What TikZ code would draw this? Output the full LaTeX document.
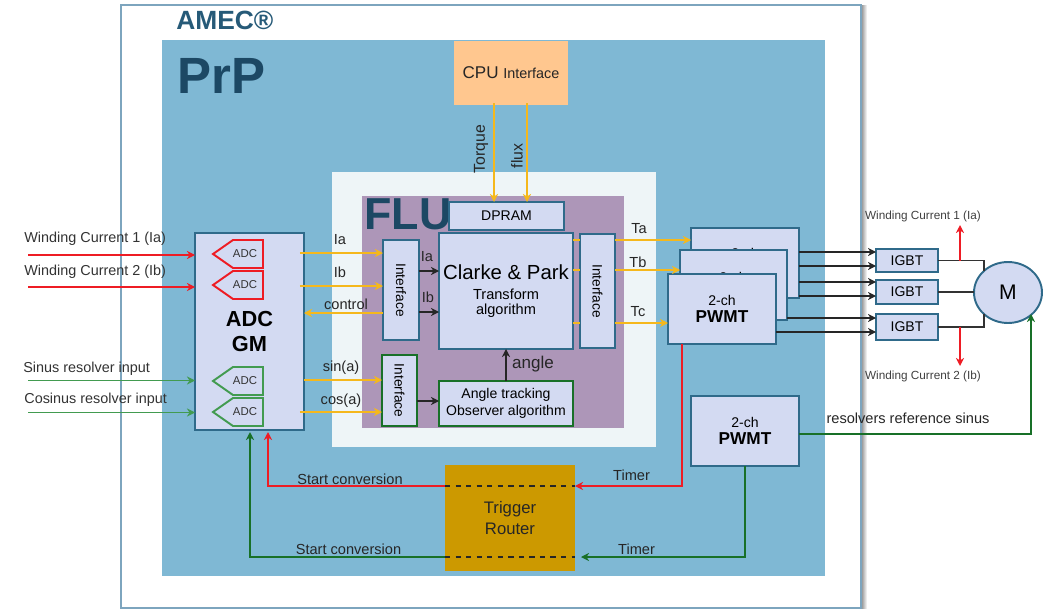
\documentclass[tikz,border=0pt]{standalone}
\usepackage{fontspec}
\setmainfont{Liberation Sans}
\usepackage{xcolor}
\usetikzlibrary{positioning, calc, shapes.geometric, arrows.meta}
\definecolor{framegray}{RGB}{125,165,190}
\definecolor{prpblue}{RGB}{127,184,212}
\definecolor{titleblue}{RGB}{38,90,120}
\definecolor{flublue}{RGB}{28,72,100}
\definecolor{cpuorange}{RGB}{255,199,143}
\definecolor{fluback}{RGB}{238,245,247}
\definecolor{flupurple}{RGB}{173,150,184}
\definecolor{boxfill}{RGB}{211,218,242}
\definecolor{boxedge}{RGB}{47,106,138}
\definecolor{trigfill}{RGB}{204,153,0}
\definecolor{sigred}{RGB}{238,28,36}
\definecolor{siggreen}{RGB}{66,155,80}
\definecolor{darkgreen}{RGB}{24,112,40}
\definecolor{sigyellow}{RGB}{245,184,28}
\newcommand{\sz}[2]{\fontsize{#1}{#2}\selectfont}
\begin{document}
\begin{tikzpicture}[
    x=0.02cm, y=-0.02cm,
    >={Stealth[length=4.6pt,width=4.6pt]},
    box/.style={rectangle, draw=boxedge, fill=boxfill, line width=0.9pt, inner sep=0pt, outer sep=0pt, align=center},
    greenbox/.style={box, draw=darkgreen},
    pwmt/.style={box, minimum width=2.16cm, minimum height=1.4cm, font=\sz{8}{10}},
    igbt/.style={box, minimum width=1.24cm, font=\sz{8}{10}},
    adcshape/.style={fill=boxfill, line width=1.1pt},
    adctxt/.style={inner sep=0pt, text=black!80, font=\sz{6.5}{8}},
    lab/.style={inner sep=0pt, text=black!85, font=\sz{8.3}{10}},
    inlab/.style={inner sep=0pt, text=black!80, font=\sz{8.2}{10}},
    motorlab/.style={inner sep=0pt, text=black!75, font=\sz{6.7}{8}},
    yarrow/.style={->, line width=1.1pt, sigyellow},
    bkarrow/.style={->, line width=1.1pt, black!85},
    redarrow/.style={->, line width=1.1pt, sigred},
    grnarrow/.style={->, line width=1.1pt, siggreen},
    dgarrow/.style={->, line width=1.1pt, darkgreen},
]
\useasboundingbox (0,0) rectangle (1046,609);
% nested areas
\fill[left color=black!45, right color=white] (861,5) rectangle (867,608);
\node[draw=framegray, fill=white, line width=0.8pt, minimum width=14.8cm, minimum height=12.06cm, outer sep=0pt, inner sep=0pt] (amec) at (491,306.5) {};
\node[fill=prpblue, minimum width=13.26cm, minimum height=10.72cm, outer sep=0pt, inner sep=0pt] (prp) at (493.5,308) {};
\node[fill=fluback, minimum width=6.48cm, minimum height=5.5cm, outer sep=0pt, inner sep=0pt] (fluarea) at (494,309.5) {};
\node[fill=flupurple, minimum width=5.24cm, minimum height=4.64cm, outer sep=0pt, inner sep=0pt] (flu) at (493,312) {};
\node[inner sep=0pt, text=titleblue, font=\sz{15}{17}\bfseries, anchor=west] (amectitle) at (176,20) {AMEC®};
\node[inner sep=0pt, text=flublue, font=\sz{29}{31}\bfseries, anchor=west] (prptitle) at (177,76) {PrP};
\node[inner sep=0pt, text=flublue, font=\sz{25.5}{27}\bfseries, anchor=west] (flutitle) at (364,214) {FLU};

% blocks
\node[fill=cpuorange, minimum width=2.28cm, minimum height=1.28cm, outer sep=0pt, inner sep=0pt, text=black!85] (cpu) at (511,73) {\sz{9.7}{12}CPU \sz{8.2}{12}Interface};
\node[box, minimum width=2.3cm, minimum height=0.56cm, font=\sz{8}{10}] (dpram) at (506.5,216) {DPRAM};
\node[box, minimum width=2.68cm, minimum height=2.32cm, font=\sz{8.3}{8.6}] (clarke) at (506,291) {\sz{11.6}{8.6}Clarke \& Park\\[2.8pt]Transform\\algorithm};
\node[box, minimum width=0.72cm, minimum height=2cm, font=\sz{7.8}{10}] (ifleft) at (401,290) {\rotatebox{-90}{Interface}};
\node[box, minimum width=0.7cm, minimum height=2.28cm, font=\sz{7.8}{10}] (ifright) at (597.5,291) {\rotatebox{-90}{Interface}};
\node[greenbox, minimum width=0.7cm, minimum height=1.42cm, font=\sz{7.8}{10}] (ifgreen) at (399.5,390.5) {\rotatebox{-90}{Interface}};
\node[greenbox, minimum width=2.68cm, minimum height=0.9cm, font=\sz{8}{9.7}] (angle) at (506,403.5) {Angle  tracking\\Observer algorithm};

\node[box, minimum width=2.18cm, minimum height=3.94cm, font=\sz{12.4}{14}\bfseries] (adc) at (249.5,331.5) {ADC\\GM};
\foreach \n/\yy/\cc in {adca/254/sigred, adcb/285/sigred, adcc/381/siggreen, adcd/412/siggreen} {
  \draw[adcshape, draw=\cc] (213,\yy) -- (233,\yy-14) -- (263,\yy-14) -- (263,\yy+14) -- (233,\yy+14) -- cycle;
  \node[adctxt] (\n) at (245,\yy) {ADC};
}

\node[pwmt] (pwmback) at (745,263) {};
\node[inner sep=0pt, font=\sz{8}{10}] (txtback) at (745,253.5) {2-ch};
\node[pwmt, minimum width=2.14cm] (pwmmid) at (733.5,285) {};
\node[inner sep=0pt, font=\sz{8}{10}] (txtmid) at (733,277) {2-ch};
\node[pwmt] (pwmfront) at (722,309) {2-ch\\\sz{9.8}{10}\bfseries PWMT};
\node[pwmt] (pwmres) at (745,431) {2-ch\\\sz{9.8}{10}\bfseries PWMT};

\node[igbt, minimum height=0.46cm] (igbta) at (907,260.5) {IGBT};
\node[igbt, minimum height=0.48cm] (igbtb) at (907,292) {IGBT};
\node[igbt, minimum height=0.52cm] (igbtc) at (907,327) {IGBT};
\node[ellipse, draw=boxedge, fill=boxfill, line width=1.1pt, minimum width=1.36cm, minimum height=1.22cm, inner sep=0pt, outer sep=0pt, font=\sz{12}{14}] (motor) at (1008,292.5) {M};
\node[fill=trigfill, minimum width=2.6cm, minimum height=2.12cm, outer sep=0pt, inner sep=0pt, align=center, text=black!85, font=\sz{9.5}{11.5}] (trigger) at (510,518) {Trigger\\Router};

% level coordinates for the connectors
\coordinate (lvia) at (0,253);
\coordinate (lvib) at (0,286);
\coordinate (lvctl) at (0,313);
\coordinate (lvsin) at (0,380);
\coordinate (lvcos) at (0,412);
\coordinate (lvta) at (0,240);
\coordinate (lvtb) at (0,270);
\coordinate (lvtc) at (0,323);
\coordinate (lvred) at (0,486);
\coordinate (lvgrn) at (0,557);
\coordinate (lvres) at (0,434);

% inputs
\coordinate (inia) at (28,255);
\coordinate (inib) at (28,287);
\coordinate (insin) at (28,380.5);
\coordinate (incos) at (28,412.5);
\draw[redarrow] (inia) -- (inia -| adc.west);
\draw[redarrow] (inib) -- (inib -| adc.west);
\draw[grnarrow] (insin) -- (insin -| adc.west);
\draw[grnarrow] (incos) -- (incos -| adc.west);
\node[inlab, anchor=west] (txtia) at (24,239) {Winding Current 1 (Ia)};
\node[inlab, anchor=west] (txtib) at (24,272) {Winding Current 2 (Ib)};
\node[inlab, anchor=west] (txtsin) at (23,368.5) {Sinus resolver input};
\node[inlab, anchor=west] (txtcos) at (24,399.5) {Cosinus resolver input};

% yellow signals
\draw[yarrow] ([xshift=-0.08cm]adc.east |- lvia) -- (ifleft.west |- lvia);
\draw[yarrow] ([xshift=-0.08cm]adc.east |- lvib) -- (ifleft.west |- lvib);
\draw[yarrow] (ifleft.west |- lvctl) -- (adc.east |- lvctl);
\draw[yarrow] (adc.east |- lvsin) -- (ifgreen.west |- lvsin);
\draw[yarrow] ([xshift=-0.08cm]adc.east |- lvcos) -- (ifgreen.west |- lvcos);
\node[lab] (txtoia) at (340,240) {Ia};
\node[lab] (txtoib) at (340,272) {Ib};
\node[lab] (txtctl) at (346,304) {control};
\node[lab] (txtsina) at (341,368) {sin(a)};
\node[lab] (txtcosa) at (341,401) {cos(a)};

\coordinate (cputq) at (494,103);
\coordinate (cpufl) at (527,103);
\draw[yarrow] (cputq) -- (cputq |- dpram.north);
\draw[yarrow] (cpufl) -- (cpufl |- dpram.north);
\node[lab, rotate=90, font=\sz{9}{10}] (txttq) at (481,149) {Torque};
\node[lab, rotate=90, font=\sz{9}{10}] (txtfl) at (517,156) {flux};

\draw[sigyellow, line width=1.1pt] (clarke.east |- lvta) -- (ifright.west |- lvta);
\draw[sigyellow, line width=1.1pt] (clarke.east |- lvtb) -- (ifright.west |- lvtb);
\draw[sigyellow, line width=1.1pt] (clarke.east |- lvtc) -- (ifright.west |- lvtc);
\draw[yarrow] (ifright.east |- lvta) -- (pwmback.west |- lvta);
\draw[yarrow] (ifright.east |- lvtb) -- (pwmmid.west |- lvtb);
\draw[yarrow] (ifright.east |- lvtc) -- (pwmfront.west |- lvtc);
\node[lab] (txtta) at (639,229) {Ta};
\node[lab] (txttb) at (638,262) {Tb};
\node[lab] (txttc) at (638,312) {Tc};

% inside FLU
\coordinate (lvla) at (0,271);
\coordinate (lvlb) at (0,312);
\coordinate (lvobs) at (0,401);
\draw[bkarrow] (ifleft.east |- lvla) -- (clarke.west |- lvla);
\draw[bkarrow] (ifleft.east |- lvlb) -- (clarke.west |- lvlb);
\draw[bkarrow] (ifgreen.east |- lvobs) -- (angle.west |- lvobs);
\draw[bkarrow] (angle.north) -- (clarke.south);
\node[lab] (txtla) at (427,257) {Ia};
\node[lab] (txtlb) at (428,297) {Ib};
\node[lab, font=\sz{9.7}{11}] (txtangle) at (533,364) {angle};

% PWMT to IGBT to motor
\coordinate (lvpa) at (0,252);
\coordinate (lvpb) at (0,266);
\coordinate (lvpc) at (0,282);
\coordinate (lvpd) at (0,296);
\coordinate (lvpe) at (0,318);
\coordinate (lvpf) at (0,332);
\draw[bkarrow] (pwmback.east |- lvpa) -- (igbta.west |- lvpa);
\draw[bkarrow] (pwmback.east |- lvpb) -- (igbta.west |- lvpb);
\draw[bkarrow] (pwmback.east |- lvpc) -- (igbtb.west |- lvpc);
\draw[bkarrow] (pwmback.east |- lvpd) -- (igbtb.west |- lvpd);
\draw[bkarrow] (pwmmid.east |- lvpe) -- (igbtc.west |- lvpe);
\draw[bkarrow] (pwmfront.east |- lvpf) -- (igbtc.west |- lvpf);
\coordinate (mcorner) at (984,0);
\draw[black!80, line width=1pt] (igbta.east) -| (mcorner |- motor.north west);
\draw[black!80, line width=1pt] (igbtb.east) -- (motor.west |- igbtb.east);
\draw[black!80, line width=1pt] (igbtc.east) -| (mcorner |- motor.south west);
\coordinate (tapa) at (960,260.5);
\coordinate (tapb) at (960,327);
\coordinate (wca) at (960,225);
\coordinate (wcb) at (960,366);
\draw[redarrow] (tapa) -- (wca);
\draw[redarrow] (tapb) -- (wcb);
\node[motorlab] (txtwa) at (923,216) {Winding Current 1 (Ia)};
\node[motorlab] (txtwb) at (923,376) {Winding Current 2 (Ib)};

% resolver and trigger paths
\coordinate (mgreen) at (1031,314);
\draw[dgarrow] (pwmres.east |- lvres) -| (mgreen);
\node[lab] (txtres) at (908,418) {resolvers reference sinus};
\coordinate (fronttap) at (682,344);
\coordinate (adcred) at (268,432);
\coordinate (adcgrn) at (250,432);
\draw[redarrow] (fronttap) |- (trigger.east |- lvred);
\draw[dgarrow] (pwmres.south) |- ([xshift=0.12cm]trigger.east |- lvgrn);
\draw[redarrow] (trigger.west |- lvred) -| (adcred);
\draw[dgarrow] (trigger.west |- lvgrn) -| (adcgrn);
\draw[dashed, thick, black!85] (trigger.west |- lvred) -- (trigger.east |- lvred);
\draw[dashed, thick, black!85] (trigger.west |- lvgrn) -- (trigger.east |- lvgrn);
\node[lab] (txtsca) at (350,479) {Start conversion};
\node[lab] (txtscb) at (348.5,549) {Start conversion};
\node[lab] (txttma) at (631.5,475) {Timer};
\node[lab] (txttmb) at (636.5,549) {Timer};
\end{tikzpicture}
\end{document}
